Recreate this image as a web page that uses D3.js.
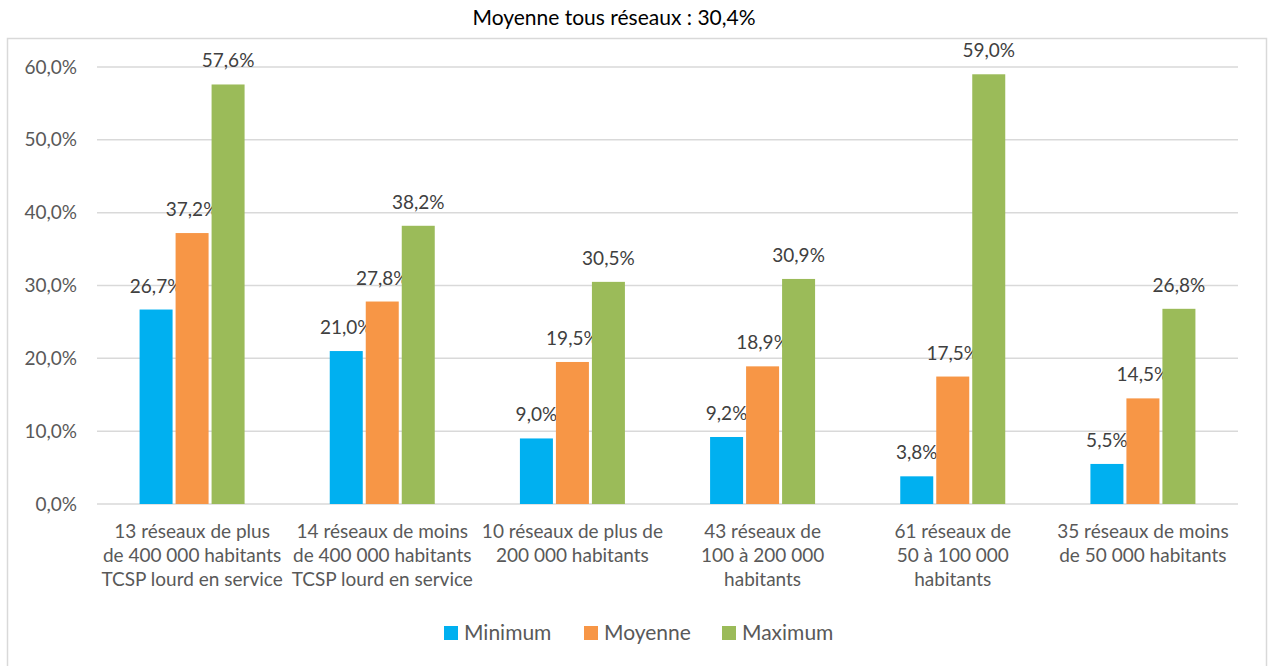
<!DOCTYPE html>
<html>
<head>
<meta charset="utf-8">
<script src="https://cdn.jsdelivr.net/npm/d3@7"></script>
<style>
  body { margin: 0; background: #fff; }
  text { font-family: Lato, "Open Sans", sans-serif; }
</style>
</head>
<body>
<svg id="chart" width="1268" height="666"></svg>
<script>
const categories = [
  ["13 réseaux de plus", "de 400 000 habitants", "TCSP lourd en service"],
  ["14 réseaux de moins", "de 400 000 habitants", "TCSP lourd en service"],
  ["10 réseaux de plus de", "200 000 habitants"],
  ["43 réseaux de", "100 à 200 000", "habitants"],
  ["61 réseaux de", "50 à 100 000", "habitants"],
  ["35 réseaux de moins", "de 50 000 habitants"]
];
const seriesNames = ["Minimum", "Moyenne", "Maximum"];
const minimum = [26.7, 21.0, 9.0, 9.2, 3.8, 5.5];
const moyenne = [37.2, 27.8, 19.5, 18.9, 17.5, 14.5];
const maximum = [57.6, 38.2, 30.5, 30.9, 59.0, 26.8];
const yTicks = [0, 10, 20, 30, 40, 50, 60];
const title = "Moyenne tous réseaux : 30,4%";

const colors = ["#00b0f0", "#f79646", "#9bbb59"];
const values = [minimum, moyenne, maximum];
const fmt = v => v.toFixed(1).replace(".", ",") + "%";

const svg = d3.select("#chart");

// outer chart border
svg.append("rect")
  .attr("x", 7.5).attr("y", 38.5)
  .attr("width", 1259).attr("height", 640)
  .attr("fill", "none").attr("stroke", "#d9d9d9").attr("stroke-width", 1.5);

svg.append("text")
  .attr("x", 614).attr("y", 25)
  .attr("text-anchor", "middle")
  .attr("font-size", 21).attr("fill", "#000")
  .text(title);

const plotLeft = 97, plotRight = 1238, plotTop = 67, plotBottom = 504;

const x = d3.scaleBand().domain(d3.range(categories.length)).range([plotLeft, plotRight]);
const y = d3.scaleLinear().domain([0, 60]).range([plotBottom, plotTop]);
const barW = 33, gap = 3;
const xs = d3.scaleBand().domain(seriesNames).range([0, 3 * barW + 2 * gap]).paddingInner(gap / (barW + gap));

// gridlines
svg.append("g").selectAll("line").data(yTicks).join("line")
  .attr("x1", plotLeft).attr("x2", plotRight)
  .attr("y1", d => y(d)).attr("y2", d => y(d))
  .attr("stroke", "#d9d9d9").attr("stroke-width", 1.5);

// y tick labels
svg.append("g").selectAll("text").data(yTicks).join("text")
  .attr("x", 77).attr("y", d => y(d))
  .attr("dy", "0.35em")
  .attr("text-anchor", "end")
  .attr("font-size", 19).attr("fill", "#595959")
  .text(d => d.toFixed(1).replace(".", ",") + "%");

// bars
const groups = svg.append("g").selectAll("g").data(categories).join("g")
  .attr("transform", (d, i) => "translate(" + (x(i) + x.bandwidth() / 2 - xs.range()[1] / 2) + ",0)");

seriesNames.forEach((s, si) => {
  groups.append("rect")
    .attr("x", xs(s))
    .attr("y", (d, i) => y(values[si][i]))
    .attr("width", xs.bandwidth())
    .attr("height", (d, i) => plotBottom - y(values[si][i]))
    .attr("fill", colors[si]);
  groups.append("text")
    .attr("x", xs(s) + xs.bandwidth() / 2)
    .attr("y", (d, i) => y(values[si][i]) - 17)
    .attr("text-anchor", "middle")
    .attr("font-size", 19).attr("fill", "#404040")
    .text((d, i) => fmt(values[si][i]));
});

// category labels
const catLabels = svg.append("g").selectAll("text").data(categories).join("text")
  .attr("text-anchor", "middle")
  .attr("font-size", 19).attr("fill", "#595959")
  .attr("transform", (d, i) => "translate(" + (x(i) + x.bandwidth() / 2) + ",538)");
catLabels.selectAll("tspan").data(d => d).join("tspan")
  .attr("x", 0).attr("y", (d, i) => i * 24)
  .text(d => d);

// legend
const legendX = [444, 584, 722];
const legend = svg.append("g").selectAll("g").data(seriesNames).join("g")
  .attr("transform", (d, i) => "translate(" + legendX[i] + ",626)");
legend.append("rect").attr("width", 14).attr("height", 14).attr("fill", (d, i) => colors[i]);
legend.append("text").attr("x", 20).attr("y", 7).attr("dy", "0.35em")
  .attr("font-size", 21).attr("fill", "#595959").text(d => d);
</script>
</body>
</html>
